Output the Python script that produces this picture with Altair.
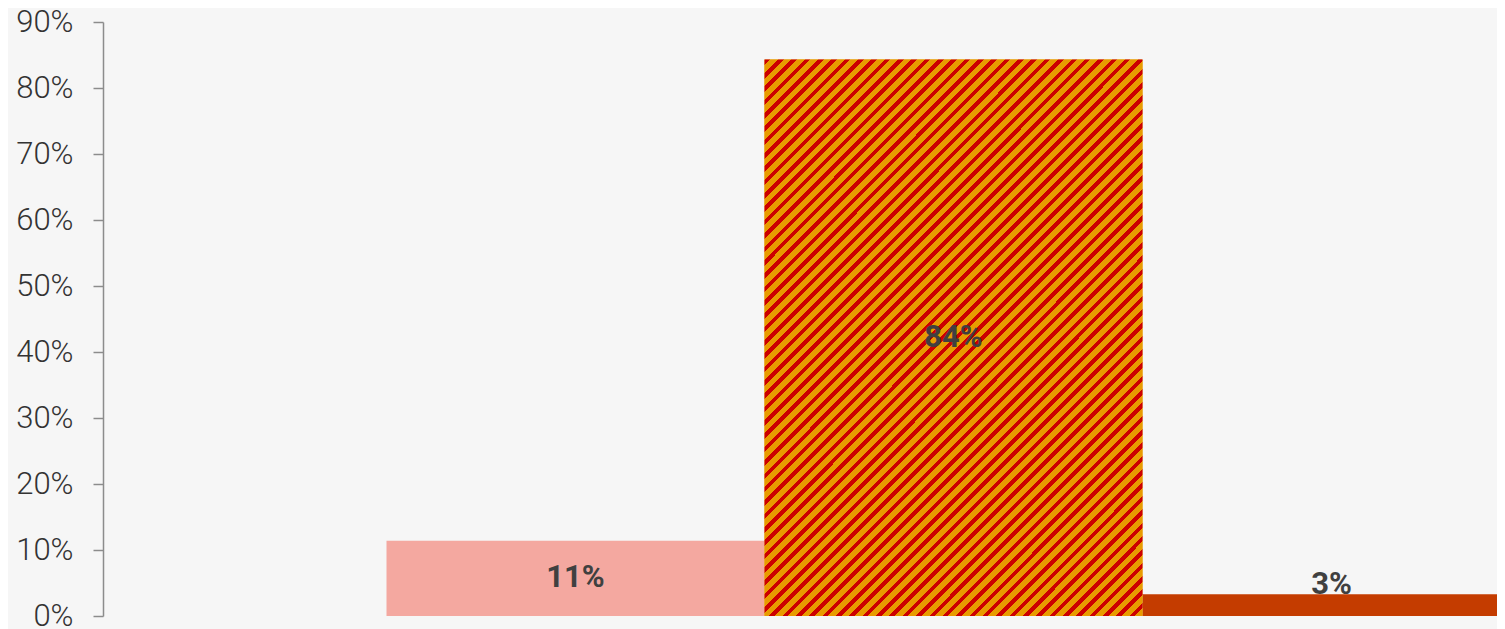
import altair as alt
import pandas as pd

# ---- data ----
categories = ["Groupe 1", "Groupe 2", "Groupe 3"]
values = [0.114, 0.843, 0.033]
bar_colors = ["#f4a8a0", "#e89b00", "#c43c00"]
tick_values = [0.0, 0.1, 0.2, 0.3, 0.4, 0.5, 0.6, 0.7, 0.8, 0.9]

df = pd.DataFrame({"cat": categories, "value": values})

# ---- hatch fill (diagonal stripes) built as a hard-stop linear gradient ----
red = "#cc0000"
orange = "#e89b00"
box_w, box_h = 378.0, 556.0
r = box_w / box_h
gb = (1 + r) / (1 + r * r)
ga = r * gb
n_periods = 70
red_frac = 0.42
stops = []
for k in range(n_periods):
    o0 = k / n_periods
    o1 = (k + red_frac) / n_periods
    o2 = (k + 1) / n_periods
    stops += [
        alt.GradientStop(offset=o0, color=red),
        alt.GradientStop(offset=o1, color=red),
        alt.GradientStop(offset=o1, color=orange),
        alt.GradientStop(offset=min(o2, 1.0), color=orange),
    ]
hatch = alt.LinearGradient(gradient="linear", stops=stops, x1=0, y1=0, x2=ga, y2=gb)

# ---- encodings ----
x_enc = alt.X(
    "cat:N",
    sort=categories,
    axis=None,
    scale=alt.Scale(domain=categories, range=[0, 1701], paddingInner=0, paddingOuter=0.75),
)
y_axis = alt.Axis(
    values=tick_values,
    format=".0%",
    grid=False,
    title=None,
    domainColor="#8c8c8c",
    domainWidth=1.5,
    tickColor="#8c8c8c",
    tickWidth=1.5,
    tickSize=10,
    labelFont="Roboto",
    labelFontWeight=300,
    labelFontSize=31,
    labelColor="#333333",
    labelPadding=20,
    labelFlush=False,
    labelOverlap=False,
)
y_scale = alt.Scale(domain=[0, 0.9], nice=False)

base = alt.Chart(df)

bars = base.mark_bar(clip=True).encode(
    x=x_enc,
    y=alt.Y("value:Q", scale=y_scale, axis=y_axis),
    color=alt.Color("cat:N", scale=alt.Scale(domain=categories, range=bar_colors), legend=None),
)

hatched = base.transform_filter(alt.datum.cat == categories[1]).mark_bar(fill=hatch, clip=True).encode(
    x=x_enc,
    y=alt.Y("value:Q", scale=y_scale, axis=y_axis),
)

labels = base.transform_calculate(ly="max(datum.value / 2, 0.047)").mark_text(
    font="Roboto", fontWeight="bold", fontSize=31, color="#404040", baseline="middle", align="center"
).encode(
    x=x_enc,
    y=alt.Y("ly:Q", scale=y_scale, axis=y_axis),
    text=alt.Text("value:Q", format=".0%"),
)

chart = alt.layer(bars, hatched, labels).properties(
    width=1394,
    height=594,
    background="#f6f6f6",
    autosize=alt.AutoSizeParams(type="none"),
    padding={"left": 95, "top": 14, "right": 0, "bottom": 13},
).configure_view(stroke=None)

chart.save("out.html", embed_options={"renderer": "svg", "actions": False})
